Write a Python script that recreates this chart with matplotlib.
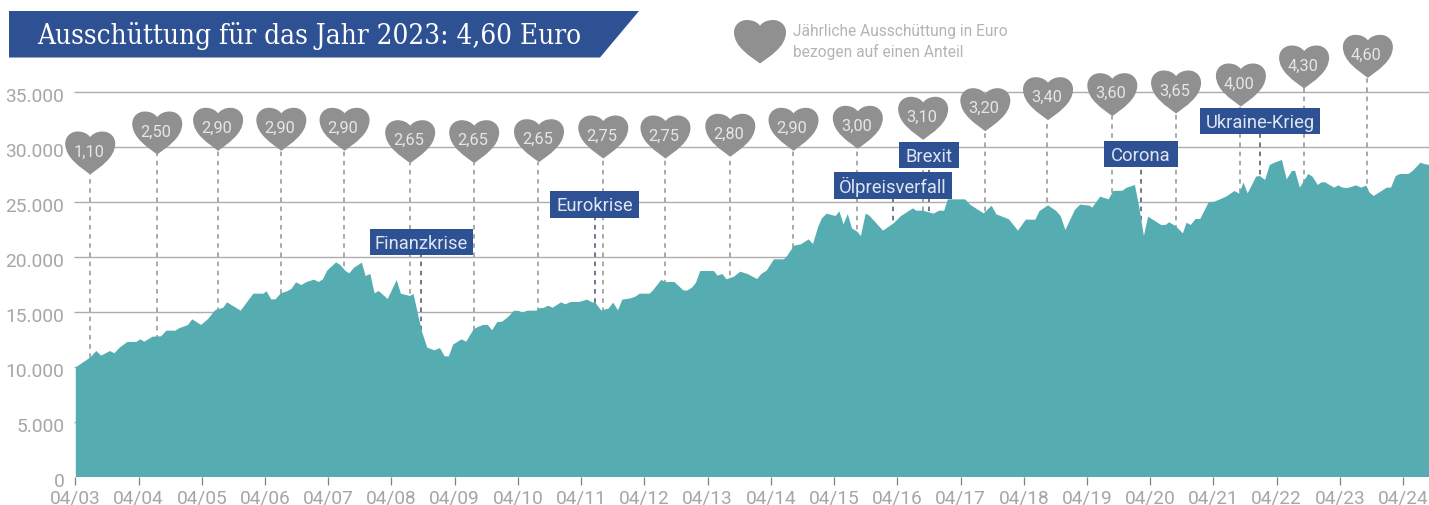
import matplotlib
matplotlib.use("Agg")
import matplotlib.pyplot as plt
import numpy as np
from matplotlib.patches import PathPatch, Polygon, Rectangle
from matplotlib.path import Path
from matplotlib.transforms import Affine2D, ScaledTranslation

plt.rcParams['font.family'] = ['Roboto', 'DejaVu Sans']

# months since 04/03 and fund value in euro
months = [0, 2.7, 3.9, 4.8, 6.5, 7.3, 8.4, 9.8, 11.5, 12.2, 13, 14.6, 16.2, 17.2, 18.9, 19.6, 21.3, 22.1, 23.8,
          25.1, 26.5, 28, 28.7, 31.3, 33.7, 35.6, 36.2, 37.1, 37.9, 38.9, 40.1, 40.9, 41.8, 42.8, 43.8, 45.2,
          46.1, 46.9, 47.7, 49.4, 50.2, 51.2, 51.9, 52.8, 54.3, 55, 55.9, 56.7, 57.5, 59.2, 60.9, 61.7, 63.4,
          64.1, 64.9, 65.7, 66.7, 68.1, 69.1, 70, 70.8, 71.6, 73.2, 74.1, 75.5, 76.3, 77.3, 78.2, 79, 80, 80.9,
          81.9, 83.2, 84.1, 84.8, 85.7, 87.4, 87.9, 88.8, 89.6, 90.5, 92.1, 92.9, 93.9, 95.5, 97, 98, 98.6,
          99.7, 101.1, 102, 102.9, 103.7, 105.3, 106.2, 107, 108.9, 109.5, 111.1, 111.9, 113.6, 115.3, 116,
          117, 117.7, 118.5, 121.1, 121.8, 122.7, 123.5, 124.9, 126.1, 127.5, 129.3, 130.1, 131.1, 132.5,
          134.4, 135, 136.3, 137.6, 139.1, 139.9, 140.9, 141.6, 142.5, 144.2, 144.9, 145.7, 146.5, 147.3,
          148.3, 149, 149.9, 150.6, 153.2, 155.2, 156.6, 158.9, 159.5, 160.8, 162.8, 163.8, 164.8, 165.5,
          168.8, 169.8, 172.3, 173.8, 174.7, 177.1, 178.8, 180.3, 182.1, 182.9, 184.5, 186, 186.9, 187.8,
          189.6, 190.6, 192.4, 192.9, 194.4, 196, 196.9, 198.7, 199.3, 201, 201.8, 202.7, 203.5, 206, 206.8,
          207.5, 208.7, 210.1, 210.8, 211.6, 212.5, 213.4, 215, 216.1, 217.3, 218.3, 219.9, 220.8, 221.6,
          222.4, 224, 224.7, 225.7, 226.6, 227.5, 228.9, 229.8, 230.8, 231.4, 232.3, 233.9, 234.7, 235.7,
          236.4, 237.1, 238.8, 239.6, 240.4, 241.4, 243, 243.9, 244.9, 245.5, 246.3, 248.8, 249.6, 250.5,
          251.3, 252.9, 253.7, 255.2, 255.9, 256.9]
values = [9970, 10850, 11455, 11030, 11455, 11245, 11790, 12275, 12275, 12515, 12305, 12760, 12790, 13305, 13305,
          13515, 13820, 14335, 13820, 14365, 15180, 15395, 15880, 15120, 16665, 16665, 16880, 16150, 16150, 16700,
          16880, 17090, 17695, 17455, 17725, 17940, 17725, 17970, 18755, 19515, 19275, 18725, 18515, 19030, 19485,
          18275, 18455, 16695, 16910, 16180, 17910, 16665, 16455, 16635, 14880, 13210, 11760, 11515, 11725, 10970,
          10970, 12030, 12515, 12305, 13425, 13635, 13820, 13820, 13335, 14090, 14120, 14485, 15120, 15090, 14940,
          15120, 15120, 15335, 15365, 15575, 15395, 15880, 15695, 15910, 15910, 16120, 15880, 15850, 15150, 15305,
          15850, 15150, 16120, 16240, 16395, 16665, 16665, 16940, 17910, 17725, 17725, 16970, 16940, 17240, 17665,
          18725, 18725, 18305, 18455, 17970, 18210, 18665, 18455, 18000, 18455, 18760, 19790, 19790, 20090, 21030,
          21150, 21605, 21180, 22760, 23515, 23940, 23725, 24150, 22970, 23910, 22605, 22305, 21910, 23940, 23760,
          22395, 23060, 23725, 24425, 24210, 24210, 23940, 24210, 24210, 25240, 25240, 24725, 23970, 24665, 23880,
          23425, 22395, 23395, 23395, 24180, 24695, 24210, 23725, 22455, 24275, 24760, 24665, 24485, 25485, 25240,
          26000, 26030, 26275, 26545, 24575, 21910, 23665, 22910, 22910, 23150, 22820, 22150, 23120, 22910, 23455,
          23455, 24970, 25030, 25275, 25485, 26000, 25760, 26760, 25790, 27305, 27365, 27000, 28365, 28575, 28820,
          27060, 27820, 27820, 26305, 27545, 27305, 26545, 26790, 26790, 26305, 26515, 26305, 26275, 26515, 26305,
          26485, 25880, 25545, 26305, 26305, 27365, 27545, 27545, 27820, 28575, 28455, 28365]

year_labels = ['04/%02d' % y for y in [3, 4, 5, 6, 7, 8, 9, 10, 11, 12, 13, 14, 15, 16, 17, 18, 19, 20, 21, 22, 23, 24]]
y_ticks = [0, 5000, 10000, 15000, 20000, 25000, 30000, 35000]
y_labels = ['0', '5.000', '10.000', '15.000', '20.000', '25.000', '30.000', '35.000']

payouts = ['1,10', '2,50', '2,90', '2,90', '2,90', '2,65', '2,65', '2,65', '2,75', '2,75', '2,80', '2,90', '3,00',
           '3,10', '3,20', '3,40', '3,60', '3,65', '4,00', '4,30', '4,60']
payout_months = [2.73, 15.45, 27, 39, 51, 63.45, 75.6, 87.9, 100.1, 111.9, 124.2, 136.2, 148.4, 160.8, 172.6,
                 184.5, 196.7, 208.8, 221.1, 233.1, 245.2]
payout_heights = [27455, 29273, 29609, 29609, 29609, 28482, 28482, 28573, 28909, 28909, 29064, 29609, 29791, 30609,
                  31391, 32391, 32755, 33000, 33636, 35273, 36245]

events = ['Finanzkrise', 'Eurokrise', 'Ölpreisverfall', 'Brexit', 'Corona', 'Ukraine-Krieg']
event_months = [65.7, 98.6, 155.2, 162.0, 202.2, 224.8]
event_heights = [21318, 24700, 26427, 29227, 29318, 32318]
event_widths = [19.7, 16.9, 22.5, 11.4, 14.0, 22.8]

BLUE = '#2d5193'
TEAL = '#55adb2'
HEART = '#8f908f'
GRID = '#adadad'
TXT = '#a6a6a6'

heart = Path(
    [(0, 0), (0.18, 0.16), (0.5, 0.38), (0.5, 0.72), (0.5, 0.88), (0.39, 1.0), (0.25, 1.0), (0.14, 1.0), (0.05, 0.95),
     (0, 0.87), (-0.05, 0.95), (-0.14, 1.0), (-0.25, 1.0), (-0.39, 1.0), (-0.5, 0.88), (-0.5, 0.72), (-0.5, 0.38),
     (-0.18, 0.16), (0, 0)],
    [Path.MOVETO] + [Path.CURVE4] * 18)

W, H = 1429, 506
fig = plt.figure(figsize=(W / 100, H / 100), dpi=100)
ax = fig.add_axes([75.3 / W, (H - 477.5) / H, (W - 75.3) / W, 385 / H])
ax.set_xlim(0, 256.9)
ax.set_ylim(0, 35000)
for s in ax.spines.values():
    s.set_visible(False)

ax.hlines(y_ticks[1:], -0.3, 256.9, color=GRID, lw=1.0, zorder=1, clip_on=False)
ax.vlines(payout_months, 0, payout_heights, color='#929292', lw=1.1, linestyles=(0, (3, 3)), zorder=2, clip_on=False)
ax.vlines(event_months, 0, event_heights, color='#46546a', lw=1.1, linestyles=(0, (3, 3)), zorder=2)
ax.fill_between(months, values, 0, color=TEAL, lw=0, zorder=3)

ax.set_xticks(np.arange(len(year_labels)) * 12)
ax.set_xticklabels(year_labels, fontsize=13.8, color=TXT)
ax.set_yticks(y_ticks)
ax.set_yticklabels(y_labels, fontsize=13.8, color=TXT)
ax.tick_params(axis='x', length=6, width=0.9, color='#808080', pad=3)
ax.tick_params(axis='y', length=0, pad=8)
shift = ScaledTranslation(0, -3 / 100, fig.dpi_scale_trans)
for lab in ax.get_yticklabels():
    lab.set_transform(lab.get_transform() + shift)

# hearts, sizes given in data units (50 px wide, 43 px high)
heart_w = 50 / 5.27
heart_h = 43 / 11 * 1000
for m, h, txt in zip(payout_months, payout_heights, payouts):
    tr = Affine2D().scale(heart_w, heart_h).translate(m + 0.1, h) + ax.transData
    ax.add_patch(PathPatch(heart, transform=tr, fc=HEART, ec='none', zorder=5, clip_on=False))
    ax.text(m - 0.2, h + 2150, txt, ha='center', va='center', fontsize=11.8, color='#e6e6e6',
            zorder=6, clip_on=False)

for m, h, w, txt in zip(event_months, event_heights, event_widths, events):
    ax.add_patch(Rectangle((m - w / 2, h - 1225), w, 2450, fc=BLUE, ec='none', zorder=4))
    ax.text(m, h - 50, txt, ha='center', va='center', fontsize=13.2, color='#dfe6f2', zorder=6)

# banner and legend in pixel coordinates
top = fig.add_axes([0, 0, 1, 1], facecolor='none')
top.set_xlim(0, W)
top.set_ylim(H, 0)
top.axis('off')
top.add_patch(Polygon([(9, 12), (639, 12), (600, 58.5), (9, 58.5)], fc=BLUE, ec='none'))
top.text(37, 36, 'Ausschüttung für das Jahr 2023: 4,60 Euro', fontsize=20, color='white', va='center',
         family='DejaVu Serif', fontstretch='condensed')
tr = Affine2D().scale(52, -43.5).translate(760, 64.5) + top.transData
top.add_patch(PathPatch(heart, transform=tr, fc=HEART, ec='none'))
top.text(793.5, 31.5, 'Jährliche Ausschüttung in Euro', fontsize=11.2, color='#b4b4b4', va='center')
top.text(793.5, 51.5, 'bezogen auf einen Anteil', fontsize=11.2, color='#b4b4b4', va='center')

fig.savefig('out.png', dpi=100)
